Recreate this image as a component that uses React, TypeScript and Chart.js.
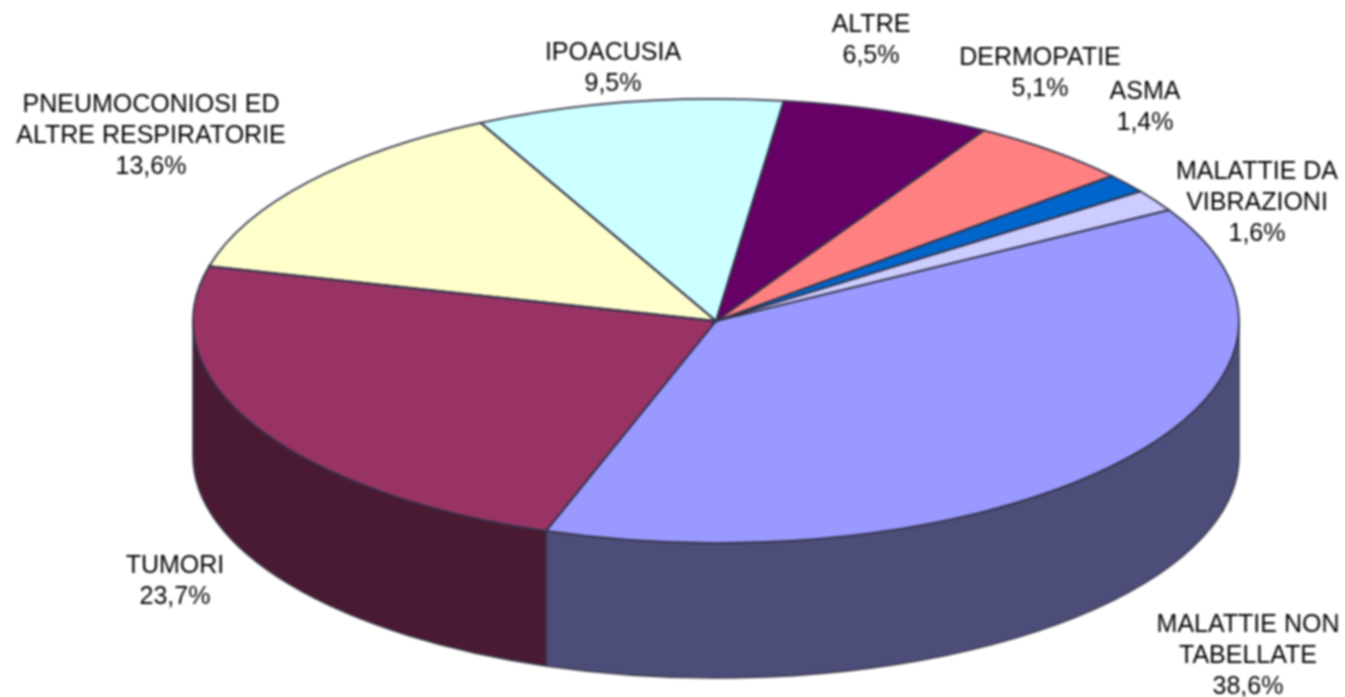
import React, { useEffect, useRef } from "react";
import { Chart, registerables } from "chart.js";

Chart.register(...registerables);

const categories = ["MALATTIE NON TABELLATE", "TUMORI", "PNEUMOCONIOSI ED ALTRE RESPIRATORIE", "IPOACUSIA", "ALTRE", "DERMOPATIE", "ASMA", "MALATTIE DA VIBRAZIONI"];
const values = [38.6, 23.7, 13.6, 9.5, 6.5, 5.1, 1.4, 1.6];
const percentLabels = ["38,6%", "23,7%", "13,6%", "9,5%", "6,5%", "5,1%", "1,4%", "1,6%"];
const topColors = ["#9999FF", "#993366", "#FFFFCC", "#CCFFFF", "#660066", "#FF8080", "#0066CC", "#CCCCFF"];
const sideColors = ["#4D4D7A", "#4A1A33", "#80805F", "#668080", "#330033", "#804040", "#003366", "#666680"];

// Label placement: one line list per slice, with its centre
const labelLines = [
  ["MALATTIE NON", "TABELLATE"],
  ["TUMORI"],
  ["PNEUMOCONIOSI ED", "ALTRE RESPIRATORIE"],
  ["IPOACUSIA"],
  ["ALTRE"],
  ["DERMOPATIE"],
  ["ASMA"],
  ["MALATTIE DA", "VIBRAZIONI"],
];
const labelCentres = [
  [1248, 625], [175, 566], [151, 105], [613, 53], [871, 25], [1040, 58], [1145, 92], [1257, 172],
];

const ELLIPSE = { cx: 716, cy: 321, rx: 523, ry: 222, depth: 135 };
const LINE_HEIGHT = 31;

const pie3d = {
  id: "pie3d",
  beforeDatasetsDraw(chart: any) {
    const { ctx } = chart;
    const arcs = chart.getDatasetMeta(0).data;
    const { cx, cy, rx, ry, depth } = ELLIPSE;
    // Side wall: the front part (0..PI in canvas angle) of each slice
    arcs.forEach((arc: any, i: number) => {
      const tau = Math.PI * 2;
      for (const shift of [0, tau, -tau]) {
        const a = Math.max(arc.startAngle + shift, 0);
        const b = Math.min(arc.endAngle + shift, Math.PI);
        if (b <= a) continue;
        ctx.beginPath();
        ctx.ellipse(cx, cy, rx, ry, 0, a, b, false);
        ctx.ellipse(cx, cy + depth, rx, ry, 0, b, a, true);
        ctx.closePath();
        ctx.fillStyle = sideColors[i];
        ctx.strokeStyle = "#3a3a4a";
        ctx.lineWidth = 1.5;
        ctx.fill();
        ctx.stroke();
      }
    });
    const a0 = arcs[0];
    ctx.save();
    ctx.translate(cx, cy);
    ctx.scale(rx / a0.outerRadius, ry / a0.outerRadius);
    ctx.translate(-a0.x, -a0.y);
  },
  afterDatasetsDraw(chart: any) {
    const { ctx } = chart;
    ctx.restore();
    const arcs = chart.getDatasetMeta(0).data;
    const { cx, cy, rx, ry } = ELLIPSE;
    arcs.forEach((arc: any) => {
      ctx.beginPath();
      ctx.moveTo(cx, cy);
      ctx.ellipse(cx, cy, rx, ry, 0, arc.startAngle, arc.endAngle, false);
      ctx.closePath();
      ctx.strokeStyle = "#33334a";
      ctx.lineWidth = 1.8;
      ctx.stroke();
    });
    ctx.fillStyle = "#000";
    ctx.font = '25px "Liberation Sans", Arial, sans-serif';
    ctx.textAlign = "center";
    ctx.textBaseline = "middle";
    labelLines.forEach((lines, i) => {
      const [x, y] = labelCentres[i];
      [...lines, percentLabels[i]].forEach((t, j) => ctx.fillText(t, x, y + j * LINE_HEIGHT));
    });
  },
};

export default function App() {
  const ref = useRef<HTMLCanvasElement>(null);
  useEffect(() => {
    document.body.style.margin = "0";
    document.body.style.background = "#fff";
    const chart = new Chart(ref.current!, {
      type: "pie",
      data: {
        labels: categories,
        datasets: [{ data: values, backgroundColor: topColors, borderWidth: 0 }],
      },
      options: {
        responsive: false,
        animation: false,
        rotation: 60,
        layout: { padding: 0 },
        plugins: { legend: { display: false }, tooltip: { enabled: false } },
      },
      plugins: [pie3d],
    } as any);
    return () => chart.destroy();
  }, []);
  return (
    <canvas
      ref={ref}
      width={1345}
      height={697}
      style={{ display: "block", width: 1345, height: 697, filter: "blur(0.8px)" }}
    />
  );
}
